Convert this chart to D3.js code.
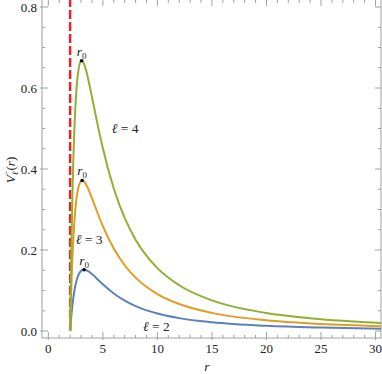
<!DOCTYPE html>
<html>
<head>
<meta charset="utf-8">
<script src="https://cdn.jsdelivr.net/npm/d3@7"></script>
<style>
    body { margin: 0; background: #fff; }
    svg text { font-family: "Liberation Serif", "Times New Roman", serif; fill: #222; }
</style>
</head>
<body>
<script>
var width = 382;
var height = 374;

// values
var rVals = [2, 2.05, 2.1, 2.2, 2.4, 2.6, 2.8, 3, 3.1, 3.2, 3.3, 3.5, 4, 4.5, 5, 6, 7, 8, 10, 12, 15, 20, 25, 30.5];
var vL2 = [0, 0.0178, 0.0339, 0.0615, 0.1013, 0.1260, 0.1406, 0.1481, 0.1501, 0.1511, 0.1513, 0.1499, 0.1406, 0.1280, 0.1152, 0.0926, 0.0750, 0.0615, 0.0432, 0.0318, 0.0216, 0.0128, 0.0085, 0.0058];
var vL3 = [0, 0.0527, 0.0987, 0.1742, 0.2749, 0.3309, 0.3592, 0.3704, 0.3716, 0.3708, 0.3683, 0.3599, 0.3281, 0.2926, 0.2592, 0.2037, 0.1624, 0.1318, 0.0912, 0.0666, 0.0447, 0.0263, 0.0173, 0.0119];
var vL4 = [0, 0.0991, 0.1851, 0.3244, 0.5064, 0.6040, 0.6508, 0.6667, 0.6670, 0.6638, 0.6577, 0.6397, 0.5781, 0.5121, 0.4512, 0.3519, 0.2791, 0.2256, 0.1552, 0.1129, 0.0755, 0.0443, 0.0291, 0.0199];
var seriesColors = ["#5E81B5", "#E19C24", "#8FB032"];

var peakR = [3.28, 3.1, 3.05];
var peakV = [0.1513, 0.3717, 0.6674];

var labelText = ["\u2113 = 2", "\u2113 = 3", "\u2113 = 4"];
var labelR = [9.9, 3.75, 7.05];
var labelV = [0.012, 0.226, 0.50];

var horizonR = 2;

var xTicks = [0, 5, 10, 15, 20, 25, 30];
var yTicks = [0, 0.2, 0.4, 0.6, 0.8];

var pLeft = 42, pRight = 381, pTop = 0, pBottom = 338;

var x = d3.scaleLinear().domain([-0.58, 30.5]).range([pLeft, pRight]);
var y = d3.scaleLinear().domain([-0.01728, 0.8173]).range([pBottom, pTop]);

var svg = d3.select("body").append("svg")
    .attr("width", width)
    .attr("height", height);

svg.append("defs").append("clipPath").attr("id", "plotclip")
    .append("rect")
    .attr("x", pLeft).attr("y", pTop)
    .attr("width", pRight - pLeft).attr("height", pBottom - pTop);

// frame
svg.append("rect")
    .attr("x", pLeft).attr("y", pTop - 1)
    .attr("width", pRight - pLeft).attr("height", pBottom - pTop + 1)
    .attr("fill", "none")
    .attr("stroke", "#a0a0a0")
    .attr("stroke-width", 1);

var frameG = svg.append("g").attr("stroke", "#a0a0a0").attr("stroke-width", 1);

var xMinor = d3.range(0, 31, 1).filter(function(d) { return d % 5 != 0; });
var yMinor = d3.range(0, 0.81, 0.05).filter(function(d) { return Math.abs(d * 5 - Math.round(d * 5)) > 1e-6; });

// x ticks bottom + top
xTicks.forEach(function(d) {
    frameG.append("line").attr("x1", x(d)).attr("x2", x(d)).attr("y1", pBottom + 2).attr("y2", pBottom - 6);
    frameG.append("line").attr("x1", x(d)).attr("x2", x(d)).attr("y1", pTop).attr("y2", pTop + 6);
});
xMinor.forEach(function(d) {
    frameG.append("line").attr("x1", x(d)).attr("x2", x(d)).attr("y1", pBottom).attr("y2", pBottom - 3);
    frameG.append("line").attr("x1", x(d)).attr("x2", x(d)).attr("y1", pTop).attr("y2", pTop + 3);
});
// y ticks left + right
yTicks.forEach(function(d) {
    frameG.append("line").attr("x1", pLeft - 2).attr("x2", pLeft + 6).attr("y1", y(d)).attr("y2", y(d));
    frameG.append("line").attr("x1", pRight).attr("x2", pRight - 6).attr("y1", y(d)).attr("y2", y(d));
});
yMinor.forEach(function(d) {
    frameG.append("line").attr("x1", pLeft).attr("x2", pLeft + 3).attr("y1", y(d)).attr("y2", y(d));
    frameG.append("line").attr("x1", pRight).attr("x2", pRight - 3).attr("y1", y(d)).attr("y2", y(d));
});

// tick labels
svg.selectAll(".xlab").data(xTicks).enter().append("text")
    .attr("class", "xlab")
    .attr("x", function(d) { return x(d); })
    .attr("y", 353)
    .attr("text-anchor", "middle")
    .attr("font-size", 13)
    .text(function(d) { return d; });

svg.selectAll(".ylab").data(yTicks).enter().append("text")
    .attr("class", "ylab")
    .attr("x", 37)
    .attr("y", function(d) { return y(d) + 4.5; })
    .attr("text-anchor", "end")
    .attr("font-size", 13)
    .text(function(d) { return d3.format(".1f")(d); });

// axis titles
svg.append("text")
    .attr("x", 207).attr("y", 371)
    .attr("text-anchor", "middle")
    .attr("font-size", 13.5)
    .attr("font-style", "italic")
    .text("r");

var yt = svg.append("text")
    .attr("transform", "translate(15,170) rotate(-90)")
    .attr("text-anchor", "middle")
    .attr("font-size", 13);
yt.append("tspan").attr("font-style", "italic").text("V");
yt.append("tspan").attr("font-size", 8.5).attr("dy", 3).attr("font-style", "italic").text("\u2113");
yt.append("tspan").attr("font-size", 8.5).attr("dx", -3.5).attr("dy", -9).text("\u2212");
yt.append("tspan").attr("dy", 6).text("(");
yt.append("tspan").attr("font-style", "italic").text("r");
yt.append("tspan").text(")");

var plot = svg.append("g").attr("clip-path", "url(#plotclip)");

// horizon
plot.append("line")
    .attr("x1", x(horizonR)).attr("x2", x(horizonR))
    .attr("y1", y(0)).attr("y2", pTop)
    .attr("stroke", "#ff1a1a")
    .attr("stroke-width", 2.4)
    .attr("stroke-dasharray", "9,3");

var line = d3.line()
    .x(function(d) { return x(d[0]); })
    .y(function(d) { return y(d[1]); })
    .curve(d3.curveMonotoneX);

[vL2, vL3, vL4].forEach(function(vs, i) {
    plot.append("path")
        .datum(rVals.map(function(r, j) { return [r, vs[j]]; }))
        .attr("fill", "none")
        .attr("stroke", seriesColors[i])
        .attr("stroke-width", 2)
        .attr("d", line);
});

// peaks
peakR.forEach(function(r, i) {
    svg.append("circle")
        .attr("cx", x(r)).attr("cy", y(peakV[i]))
        .attr("r", 1.8)
        .attr("fill", "#000");
    var t = svg.append("text")
        .attr("x", x(r)).attr("y", y(peakV[i]) - 5)
        .attr("text-anchor", "middle")
        .attr("font-size", 13.5);
    t.append("tspan").attr("font-style", "italic").text("r");
    t.append("tspan").attr("font-size", 9).attr("dy", 3).text("0");
});

// curve labels
labelText.forEach(function(s, i) {
    var t = svg.append("text")
        .attr("x", x(labelR[i])).attr("y", y(labelV[i]) + 4.5)
        .attr("text-anchor", "middle")
        .attr("font-size", 13.5);
    t.append("tspan").attr("font-style", "italic").text(s.slice(0, 1));
    t.append("tspan").text(s.slice(1));
});
</script>
</body>
</html>
